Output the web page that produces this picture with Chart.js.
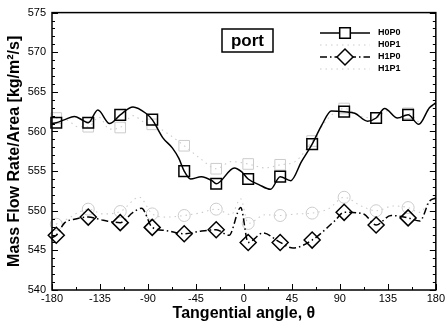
<!DOCTYPE html>
<html><head><meta charset="utf-8">
<script src="https://cdn.jsdelivr.net/npm/chart.js@4.4.1/dist/chart.umd.min.js"></script>
<style>html,body{margin:0;padding:0;background:#fff;}#wrap{position:relative;width:447px;height:328px;}</style>
</head><body><div id="wrap"><canvas id="c" width="447" height="328"></canvas></div>
<script>
const seriesNames = ['H0P0', 'H0P1', 'H1P0', 'H1P1'];
const xTickValues = [-180, -135, -90, -45, 0, 45, 90, 135, 180];
const yTickValues = [540, 545, 550, 555, 560, 565, 570, 575];
const markerAngles = [-176, -146, -116, -86, -56, -26, 4, 34, 64, 94, 124, 154];
const xTitle = 'Tangential angle, \u03b8';
const yTitle = 'Mass Flow Rate/Area [kg/m\u00b2/s]';
const boxLabel = 'port';

const angH0P0 = [-180, -176, -168, -159, -151, -146, -137, -126, -116, -104, -92, -86, -76, -67, -61, -56, -50, -40, -30, -26, -9, -2, 4, 14, 25, 34, 44, 54, 64, 73, 82, 94, 104, 116, 124, 132, 144, 154, 164, 174, 180];
const valH0P0 = [561.0, 561.1, 561.5, 561.9, 561.4, 561.1, 562.7, 561.0, 562.1, 563.1, 562.3, 561.5, 559.2, 557.9, 556.6, 555.0, 554.0, 554.3, 553.8, 553.4, 555.4, 554.9, 554.0, 553.3, 552.7, 554.3, 553.8, 556.2, 558.4, 560.8, 562.6, 562.5, 562.3, 561.3, 561.7, 562.9, 561.7, 562.1, 560.9, 563.0, 563.6];

const angH0P1 = [-180, -176, -165, -156, -146, -136, -126, -116, -104, -94, -86, -70, -56, -40, -26, -12, 4, 20, 34, 48, 64, 80, 94, 110, 124, 134, 145, 154, 165, 174, 180];
const valH0P1 = [562.2, 561.7, 561.4, 560.6, 560.6, 561.8, 560.3, 560.5, 562.0, 561.2, 560.9, 559.6, 558.2, 556.5, 555.3, 556.2, 555.9, 555.4, 555.8, 556.2, 558.8, 561.8, 562.9, 561.9, 561.7, 562.6, 561.6, 562.3, 561.2, 562.9, 563.4];

const angH1P0 = [-180, -176, -168, -160, -146, -132, -116, -104, -96, -86, -73, -56, -42, -26, -14, -3, 4, 18, 34, 46, 64, 85, 94, 112, 124, 138, 154, 165, 174, 180];
const valH1P0 = [546.6, 546.9, 548.5, 548.9, 549.2, 548.8, 548.5, 549.8, 550.3, 547.9, 547.5, 547.1, 547.4, 547.6, 546.9, 550.4, 546.0, 547.2, 546.0, 545.3, 546.3, 548.7, 549.8, 549.6, 548.2, 549.4, 549.1, 548.7, 551.2, 551.6];

const angH1P1 = [-180, -176, -165, -155, -146, -132, -116, -98, -86, -72, -56, -42, -26, -12, -3, 4, 20, 34, 50, 64, 80, 94, 110, 124, 140, 154, 165, 174, 180];
const valH1P1 = [547.8, 548.3, 549.0, 549.8, 550.2, 549.6, 549.9, 551.7, 549.6, 549.2, 549.4, 549.7, 550.2, 549.5, 551.5, 548.4, 549.5, 549.4, 549.6, 549.7, 550.3, 551.7, 550.6, 550.0, 550.6, 550.4, 549.8, 551.2, 551.8];

const FONT = '"Liberation Sans", Arial, Helvetica, sans-serif';
const GREY = '#cccccc';

const styles = [
  {color: '#000', width: 1.5, dash: [], point: 'rect', radius: 7.5, pw: 1.5, legendMarker: true},
  {color: GREY, width: 1.1, dash: [1.5, 4], point: 'rect', radius: 7.5, pw: 1, legendMarker: false},
  {color: '#000', width: 1.5, dash: [7, 3, 1.5, 3], point: 'rectRot', radius: 8, pw: 1.5, legendMarker: true},
  {color: GREY, width: 1.1, dash: [1.5, 4], point: 'circle', radius: 6, pw: 1, legendMarker: false}
];

function toPoints(a, v) { return a.map((x, i) => ({x: x, y: v[i]})); }
const seriesData = [toPoints(angH0P0, valH0P0), toPoints(angH0P1, valH0P1), toPoints(angH1P0, valH1P0), toPoints(angH1P1, valH1P1)];

const datasets = seriesNames.map((name, i) => ({
  label: name,
  data: seriesData[i],
  borderColor: styles[i].color,
  borderWidth: styles[i].width,
  borderDash: styles[i].dash,
  cubicInterpolationMode: 'monotone',
  fill: false,
  clip: false,
  pointStyle: styles[i].point,
  pointRadius: ctx => (ctx.raw && markerAngles.includes(ctx.raw.x)) ? styles[i].radius : 0,
  pointHoverRadius: 0,
  pointBackgroundColor: 'rgba(255,255,255,0)',
  pointBorderColor: styles[i].color,
  pointBorderWidth: styles[i].pw
}));

const decor = {
  id: 'decor',
  afterDraw(chart) {
    const {ctx, chartArea: a, scales: {x, y}} = chart;
    ctx.save();
    ctx.strokeStyle = '#000';
    ctx.setLineDash([]);
    ctx.lineWidth = 1.5;
    ctx.strokeRect(a.left, a.top, a.right - a.left, a.bottom - a.top);
    ctx.lineWidth = 1;
    const seg = (x1, y1, x2, y2) => { ctx.beginPath(); ctx.moveTo(x1, y1); ctx.lineTo(x2, y2); ctx.stroke(); };
    for (let v = -180; v <= 180; v += 22.5) {
      const px = Math.round(x.getPixelForValue(v)) + 0.5;
      const L = (v % 45 === 0) ? 6 : 3;
      seg(px, a.bottom, px, a.bottom - L);
    }
    for (let v = 540; v <= 575; v += 1) {
      const py = Math.round(y.getPixelForValue(v)) + 0.5;
      const L = (v % 5 === 0) ? 6 : 3;
      seg(a.left, py, a.left + L, py);
      seg(a.right, py, a.right - L, py);
    }
    // boxed label
    ctx.lineWidth = 1.5;
    ctx.strokeRect(222, 29, 51, 23);
    ctx.fillStyle = '#000';
    ctx.font = 'bold 17px ' + FONT;
    ctx.textAlign = 'center';
    ctx.textBaseline = 'middle';
    ctx.fillText(boxLabel, 247.5, 41);
    // legend
    const rows = [33, 45, 57, 69];
    seriesNames.forEach((name, i) => {
      const s = styles[i];
      const ry = rows[i];
      ctx.strokeStyle = s.color;
      ctx.lineWidth = s.width;
      ctx.setLineDash(s.dash);
      seg(320, ry, 370, ry);
      ctx.setLineDash([]);
      if (s.legendMarker) {
        ctx.lineWidth = s.pw;
        ctx.fillStyle = '#fff';
        Chart.helpers.drawPoint(ctx, {pointStyle: s.point, radius: s.radius, rotation: 0, borderWidth: s.pw}, 345, ry);
      }
      ctx.fillStyle = '#000';
      ctx.font = 'bold 9px ' + FONT;
      ctx.textAlign = 'left';
      ctx.textBaseline = 'middle';
      ctx.fillText(name, 378, ry);
    });
    ctx.restore();
  }
};

new Chart(document.getElementById('c'), {
  type: 'line',
  data: {datasets: datasets},
  plugins: [decor],
  options: {
    responsive: false,
    devicePixelRatio: 1,
    animation: false,
    events: [],
    layout: {padding: {top: 10, right: 9, left: 0, bottom: 0}},
    plugins: {legend: {display: false}, tooltip: {enabled: false}},
    scales: {
      x: {
        type: 'linear', min: -180, max: 180,
        afterBuildTicks: s => { s.ticks = xTickValues.map(v => ({value: v})); },
        afterFit: s => { s.height = 38; },
        grid: {display: false, drawTicks: false},
        border: {display: false},
        ticks: {color: '#000', font: {family: FONT, size: 11}, padding: 2, maxRotation: 0, autoSkip: false},
        title: {display: true, text: xTitle, color: '#000', font: {family: FONT, size: 16, weight: 'bold'}, padding: {top: 0, bottom: 5}}
      },
      y: {
        type: 'linear', min: 540, max: 575,
        afterBuildTicks: s => { s.ticks = yTickValues.map(v => ({value: v})); },
        afterFit: s => { s.width = 52; },
        grid: {display: false, drawTicks: false},
        border: {display: false},
        ticks: {color: '#000', font: {family: FONT, size: 11}, padding: 6, autoSkip: false},
        title: {display: true, text: yTitle, color: '#000', font: {family: FONT, size: 16, weight: 'bold'}, padding: {top: 5, bottom: 0}}
      }
    }
  }
});
</script></body></html>
